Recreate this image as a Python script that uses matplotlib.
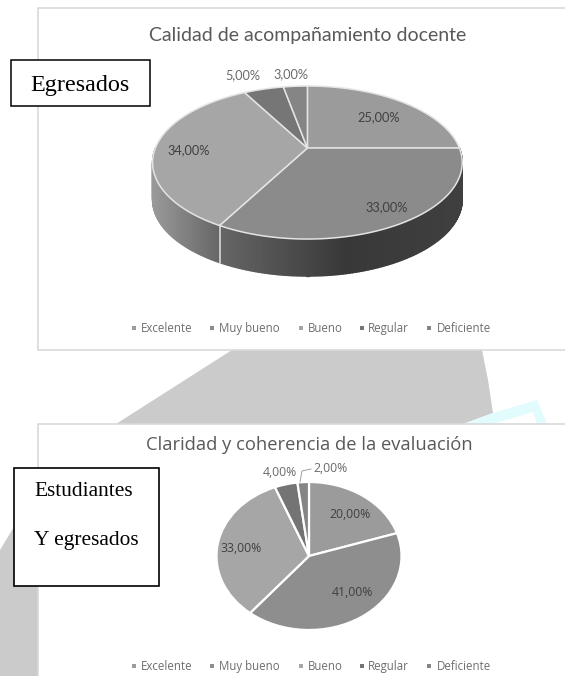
"""Two grey pie charts pasted on a page, with label boxes and a watermark behind."""
import numpy as np
import matplotlib
matplotlib.use("Agg")
import matplotlib.pyplot as plt
from matplotlib.patches import Rectangle, Polygon

W, H = 565, 676

categories = ["Excelente", "Muy bueno", "Bueno", "Regular", "Deficiente"]
values_top = [25, 33, 34, 5, 3]
values_bottom = [20, 41, 33, 4, 2]
colors_top = ["#9b9b9b", "#8b8b8b", "#a6a6a6", "#767676", "#858585"]
colors_bottom = ["#9b9b9b", "#8e8e8e", "#a6a6a6", "#747474", "#858585"]
title_top = "Calidad de acompañamiento docente"
title_bottom = "Claridad y coherencia de la evaluación"
legend_marker_x = [134, 212, 301, 361.5, 429]
legend_text_x = [140.5, 219, 307.5, 368, 437]

TEXT = "#595959"
LEGEND_TEXT = "#6e6e6e"
SANS = "Open Sans"
SERIF = "Liberation Serif"

fig = plt.figure(figsize=(W / 100, H / 100), dpi=100, facecolor="white")


def pixel_axes(zorder):
    ax = fig.add_axes([0, 0, 1, 1], zorder=zorder)
    ax.set_xlim(0, W)
    ax.set_ylim(H, 0)
    ax.axis("off")
    return ax


page = pixel_axes(0)
front = pixel_axes(2)

# --- watermark behind the panels ---
page.add_patch(Polygon([(232, 350), (482, 350), (488, 380), (493, 413), (463, 424), (116, 424)],
                       fc="#cbcbcb", ec="none", zorder=1))
page.add_patch(Polygon([(0, 550), (38, 487), (38, 676), (0, 676)],
                       fc="#cbcbcb", ec="none", zorder=1))
page.add_patch(Polygon([(463, 424), (493, 413), (537, 400), (547, 424), (537, 424),
                        (533, 412), (493, 424)],
                       fc="#e2fcfd", ec="none", zorder=1))

# --- chart panels, both run off the right edge ---
for y0, y1 in [(8, 350), (424, 690)]:
    page.add_patch(Rectangle((38, y0), 560, y1 - y0, fc="white", ec="#d9d9d9", lw=1.2, zorder=2))


def tilted(angle, cx=307.4, cy=148, kx=152, ky=73.75, c=0.19):
    """Clockwise angle from 12 o'clock to a pixel on the tilted disc."""
    u, v = np.sin(angle), np.cos(angle)
    d = 1 + c * v
    return cx + kx * u / d, cy - ky * v / d


# --- top chart: extruded pie ---
edges = 2 * np.pi * np.cumsum([0] + values_top) / sum(values_top)
DEPTH = 37

# side wall, a thin strip per step so the shade can run across it
steps = np.linspace(np.pi / 2, 3 * np.pi / 2, 240)
split_x = tilted(edges[2])[0]
for a0, a1 in zip(steps[:-1], steps[1:]):
    x0, y0 = tilted(a0)
    x1, y1 = tilted(a1)
    xm = (x0 + x1) / 2
    if xm < split_x:
        grey = np.interp(xm, [153, split_x], [0.60, 0.40])
    else:
        grey = np.interp(xm, [split_x, 345, 463], [0.40, 0.22, 0.25])
    page.add_patch(Polygon([(x0, y0), (x1, y1), (x1, y1 + DEPTH), (x0, y0 + DEPTH)],
                           fc=str(grey), ec=str(grey), lw=1.0, zorder=3))
sx, sy = tilted(edges[2])
page.plot([sx, sx], [sy, sy + DEPTH], color="#d8d8d8", lw=1.2, zorder=4)

for i, col in enumerate(colors_top):
    t = np.linspace(edges[i], edges[i + 1], 80)
    xs, ys = tilted(t)
    page.add_patch(Polygon(np.vstack([[307.4, 148], np.column_stack([xs, ys])]),
                           fc=col, ec="#e4e4e4", lw=1.1, joinstyle="round", zorder=5))

page.text(308, 35, title_top, ha="center", va="center", fontsize=14, color=TEXT, family="Lato")
for txt, x, y, col in [("25,00%", 379, 117, "#404040"), ("33,00%", 387, 207, "#404040"),
                       ("34,00%", 188.5, 150, "#404040"), ("5,00%", 243, 75, "#6a6a6a"),
                       ("3,00%", 291, 74, "#6a6a6a")]:
    page.text(x, y, txt, ha="center", va="center", fontsize=9.2, color=col, family="Lato", zorder=6)

page.add_patch(Rectangle((11, 60), 138.5, 46, fc="white", ec="black", lw=1.1, zorder=7))
page.text(80, 85, "Egresados", ha="center", va="center", fontsize=17.4, family=SERIF,
          color="black", zorder=8)

# --- bottom chart: flat pie, slightly wider than tall ---
pie_ax = fig.add_axes([(309 - 92.5) / W, 1 - (555 + 75) / H, 185 / W, 148 / H], zorder=1)
pie_ax.pie(values_bottom, colors=colors_bottom, startangle=90, counterclock=False,
           radius=1.0, wedgeprops=dict(edgecolor="white", linewidth=1.6))
pie_ax.set_aspect("auto")
pie_ax.set_xlim(-1, 1)
pie_ax.set_ylim(-1, 1)
pie_ax.patch.set_alpha(0)

front.text(309, 445, title_bottom, ha="center", va="center", fontsize=13.2, color=TEXT, family=SANS)
for txt, x, y, col in [("20,00%", 350, 515, "#404040"), ("41,00%", 352, 592, "#404040"),
                       ("33,00%", 241.5, 549, "#404040"), ("4,00%", 280, 472, "#6a6a6a"),
                       ("2,00%", 330.5, 468, "#6a6a6a")]:
    front.text(x, y, txt, ha="center", va="center", fontsize=8.8, color=col, family=SANS, zorder=6)
front.plot([300, 302, 311], [482, 471, 469], color="#a0a0a0", lw=0.7, zorder=6)

front.add_patch(Rectangle((14, 468), 145, 118, fc="white", ec="black", lw=1.2, zorder=7))
front.text(34.5, 492, "Estudiantes", ha="left", va="center", fontsize=15.4, family=SERIF,
           color="black", zorder=8)
front.text(34.5, 540, "Y egresados", ha="left", va="center", fontsize=15.4, family=SERIF,
           color="black", zorder=8)

# --- legends, drawn by hand so the labels share one baseline ---
for ax, colors, ypos in [(page, colors_top, 328), (front, colors_bottom, 666)]:
    for name, col, mx, tx in zip(categories, colors, legend_marker_x, legend_text_x):
        ax.add_patch(Rectangle((mx - 2, ypos - 2), 4, 4, fc=col, ec="none", zorder=6))
        ax.text(tx, ypos + 4, name, ha="left", va="baseline", fontsize=8.3,
                color=LEGEND_TEXT, family=SANS, zorder=6)

fig.savefig("out.png", dpi=100, facecolor="white")
plt.close()
